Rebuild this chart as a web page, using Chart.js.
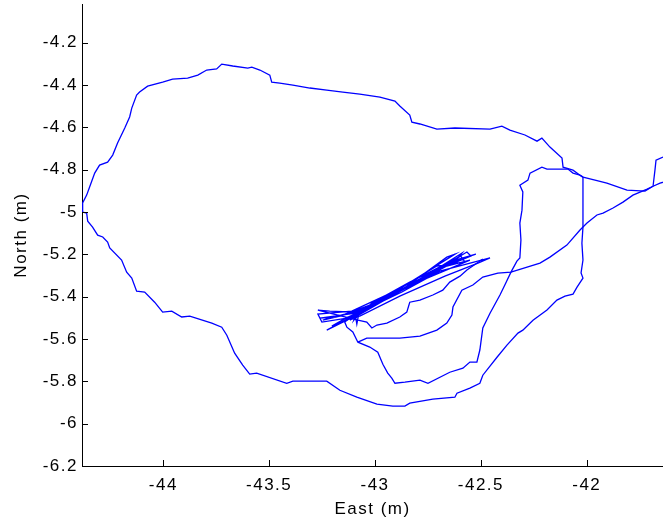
<!DOCTYPE html>
<html>
<head>
<meta charset="utf-8">
<script src="https://cdn.jsdelivr.net/npm/chart.js@4.4.1/dist/chart.umd.min.js"></script>
<style>
  html, body { margin: 0; padding: 0; background: #fff; }
</style>
</head>
<body>
<canvas id="track" width="663" height="525"></canvas>
<script>
// tick values
const eastTicks = [-44, -43.5, -43, -42.5, -42];
const northTicks = [-6.2, -6, -5.8, -5.6, -5.4, -5.2, -5, -4.8, -4.6, -4.4, -4.2];

// big outer loop, starts and ends at the junction on the right
const loopEast = [-42.018, -42.018, -42.018, -42.023, -42.018, -42.027, -42.018, -42.046, -42.065, -42.103,
  -42.141, -42.188, -42.254, -42.302, -42.325, -42.377, -42.424, -42.491, -42.505, -42.552,
  -42.613, -42.623, -42.727, -42.836, -42.859, -42.916, -42.991, -43.086, -43.166, -43.228,
  -43.388, -43.417, -43.559, -43.592, -43.625, -43.663, -43.700, -43.724, -43.771, -43.875,
  -43.913, -43.960, -44.003, -44.041, -44.088, -44.126, -44.149, -44.173, -44.197, -44.253,
  -44.263, -44.286, -44.310, -44.334, -44.357, -44.362, -44.381, -44.381, -44.362, -44.348,
  -44.324, -44.301, -44.263, -44.239, -44.216, -44.182, -44.159, -44.149, -44.126, -44.112,
  -44.074, -44.003, -43.956, -43.885, -43.837, -43.795, -43.748, -43.724, -43.672, -43.601,
  -43.582, -43.544, -43.497, -43.488, -43.450, -43.388, -43.308, -43.228, -43.152, -43.072,
  -42.977, -42.906, -42.883, -42.836, -42.826, -42.788, -42.708, -42.623, -42.457, -42.401,
  -42.363, -42.292, -42.235, -42.212, -42.174, -42.117, -42.112, -42.065, -42.032, -42.018];
const loopNorth = [-4.835, -4.943, -5.071, -5.147, -5.227, -5.288, -5.312, -5.355, -5.388, -5.397,
  -5.416, -5.463, -5.511, -5.558, -5.572, -5.629, -5.686, -5.771, -5.809, -5.832,
  -5.856, -5.875, -5.884, -5.903, -5.917, -5.917, -5.908, -5.875, -5.842, -5.799,
  -5.799, -5.809, -5.761, -5.766, -5.723, -5.667, -5.582, -5.544, -5.525, -5.492,
  -5.496, -5.468, -5.473, -5.426, -5.378, -5.374, -5.312, -5.284, -5.227, -5.170,
  -5.142, -5.118, -5.109, -5.071, -5.043, -5.005, -5.000, -4.957, -4.920, -4.882,
  -4.816, -4.778, -4.764, -4.731, -4.674, -4.603, -4.551, -4.509, -4.447, -4.433,
  -4.405, -4.386, -4.372, -4.367, -4.353, -4.329, -4.324, -4.301, -4.310, -4.320,
  -4.315, -4.329, -4.353, -4.386, -4.391, -4.400, -4.414, -4.424, -4.433, -4.443,
  -4.457, -4.476, -4.499, -4.542, -4.575, -4.584, -4.608, -4.603, -4.608, -4.594,
  -4.613, -4.636, -4.665, -4.651, -4.693, -4.745, -4.788, -4.802, -4.826, -4.835];

// junction -> off the right edge
const exitEast = [-42.018, -41.961, -41.905, -41.810, -41.725, -41.687, -41.678, -41.673, -41.640, -41.583];
const exitNorth = [-4.835, -4.849, -4.863, -4.896, -4.901, -4.878, -4.802, -4.755, -4.740, -4.722];

// back in from the right edge, down to the cluster
const diagEast = [-41.583, -41.654, -41.687, -41.715, -41.782, -41.829, -41.876, -41.923, -41.952, -41.999,
  -42.032, -42.094, -42.174, -42.221, -42.358, -42.420, -42.491, -42.538, -42.590, -42.632,
  -42.637, -42.661, -42.708, -42.788, -42.883, -42.977, -43.039, -43.081];
const diagNorth = [-4.844, -4.863, -4.878, -4.892, -4.920, -4.953, -4.981, -5.005, -5.014, -5.052,
  -5.085, -5.156, -5.213, -5.241, -5.284, -5.289, -5.307, -5.345, -5.369, -5.449,
  -5.487, -5.525, -5.558, -5.586, -5.596, -5.596, -5.596, -5.615];

// inner loop: junction, west, down and round to the cluster
const innerEast = [-42.018, -42.032, -42.065, -42.089, -42.188, -42.212, -42.268, -42.278, -42.316, -42.302,
  -42.306, -42.316, -42.311, -42.316, -42.330, -42.358, -42.387, -42.410, -42.457, -42.491,
  -42.505, -42.519, -42.552, -42.585, -42.647, -42.750, -42.788, -42.859, -42.906, -42.921,
  -42.940, -42.963, -42.987, -43.025, -43.081, -43.105, -43.133, -43.143, -43.119];
const innerNorth = [-4.835, -4.826, -4.816, -4.797, -4.797, -4.788, -4.816, -4.849, -4.873, -4.905,
  -4.991, -5.052, -5.132, -5.217, -5.232, -5.284, -5.345, -5.392, -5.478, -5.548,
  -5.652, -5.709, -5.709, -5.738, -5.757, -5.809, -5.794, -5.804, -5.809, -5.785,
  -5.761, -5.719, -5.662, -5.638, -5.615, -5.567, -5.544, -5.520, -5.501];

// cluster -> north-east tip
const spurEast = [-43.119, -43.081, -43.039, -43.015, -42.991, -42.944, -42.883, -42.850, -42.836, -42.788,
  -42.727, -42.680, -42.647, -42.599, -42.566, -42.491];
const spurNorth = [-5.501, -5.511, -5.520, -5.548, -5.534, -5.525, -5.496, -5.473, -5.426, -5.416,
  -5.392, -5.369, -5.331, -5.303, -5.274, -5.222];

// back and forth passes in the cluster
const clusterEast = [-43.119, -43.270, -43.214, -43.091, -42.883, -42.661, -42.623, -42.765, -42.954, -43.091,
  -43.261, -43.185, -43.081, -42.836, -42.566, -42.547, -42.732, -42.940, -43.086, -43.228,
  -43.166, -43.081, -42.873, -42.694, -42.457, -42.514, -42.670, -42.883, -43.072, -43.251,
  -43.270, -43.110, -42.906, -42.708, -42.576, -42.595, -42.788, -43.001, -43.100, -43.204,
  -43.138, -43.043, -42.859, -42.637, -42.524, -42.684, -42.836, -43.015, -43.091, -43.086,
  -43.077, -43.100, -43.091, -42.977, -42.921, -42.812, -42.741, -42.609, -42.590, -42.717,
  -42.826, -42.897, -43.025, -43.166, -43.247, -43.143, -43.025, -42.765, -42.552, -42.661,
  -42.906, -43.119];
const clusterNorth = [-5.501, -5.463, -5.468, -5.473, -5.374, -5.213, -5.199, -5.288, -5.407, -5.478,
  -5.501, -5.496, -5.468, -5.350, -5.189, -5.208, -5.284, -5.402, -5.487, -5.558,
  -5.525, -5.478, -5.378, -5.279, -5.217, -5.241, -5.303, -5.397, -5.492, -5.520,
  -5.482, -5.468, -5.374, -5.255, -5.236, -5.208, -5.307, -5.430, -5.496, -5.539,
  -5.501, -5.459, -5.359, -5.232, -5.199, -5.255, -5.331, -5.430, -5.501, -5.530,
  -5.482, -5.511, -5.487, -5.426, -5.383, -5.336, -5.303, -5.217, -5.194, -5.274,
  -5.326, -5.369, -5.440, -5.492, -5.511, -5.482, -5.444, -5.317, -5.227, -5.255,
  -5.388, -5.511];

const FONT = { family: '"Liberation Sans", Arial, sans-serif', size: 17 };

function segment(east, north) {
  let pts = [];
  for (let i = 0; i < east.length; i++) {
    pts.push({ x: east[i], y: north[i] });
  }
  return { data: pts, showLine: true, borderColor: '#0000ff', borderWidth: 1.3, pointRadius: 0, tension: 0 };
}

// matlab style ticks pointing into the plot
const inwardTicks = {
  id: 'inwardTicks',
  afterDatasetsDraw(chart) {
    const { ctx, chartArea, scales } = chart;
    ctx.save();
    ctx.strokeStyle = '#000';
    ctx.lineWidth = 1;
    ctx.beginPath();
    eastTicks.forEach(v => {
      const x = Math.round(scales.x.getPixelForValue(v)) + 0.5;
      ctx.moveTo(x, chartArea.bottom);
      ctx.lineTo(x, chartArea.bottom - 6);
    });
    northTicks.forEach(v => {
      const y = Math.round(scales.y.getPixelForValue(v)) + 0.5;
      ctx.moveTo(chartArea.left, y);
      ctx.lineTo(chartArea.left + 6, y);
    });
    ctx.stroke();
    ctx.restore();
  }
};

// the reference text is rendered wide, spread it a little
const wideText = {
  id: 'wideText',
  beforeDraw(chart) { chart.ctx.letterSpacing = '1.5px'; },
  afterDraw(chart) { chart.ctx.letterSpacing = '0px'; }
};

function noPad(s) {
  s.paddingTop = 0; s.paddingBottom = 0; s.paddingLeft = 0; s.paddingRight = 0;
}

new Chart('track', {
  type: 'scatter',
  data: {
    datasets: [
      segment(loopEast, loopNorth),
      segment(exitEast, exitNorth),
      segment(diagEast, diagNorth),
      segment(innerEast, innerNorth),
      segment(spurEast, spurNorth),
      segment(clusterEast, clusterNorth)
    ]
  },
  options: {
    responsive: false,
    animation: false,
    layout: { autoPadding: false, padding: { top: 4, right: 0, bottom: 0, left: 0 } },
    plugins: { legend: { display: false }, tooltip: { enabled: false } },
    scales: {
      x: {
        type: 'linear',
        min: -44.384,
        max: -41.64,
        afterBuildTicks: s => { s.ticks = eastTicks.map(v => ({ value: v })); },
        afterFit: s => { s.height = 59; noPad(s); },
        ticks: { callback: v => String(v), color: '#000', font: FONT, padding: 9, maxRotation: 0, autoSkip: false },
        grid: { display: false, drawTicks: false, tickLength: 0 },
        border: { display: true, color: '#000', width: 1 },
        title: { display: true, text: 'East (m)', color: '#000', font: FONT, padding: { top: 0, bottom: 5 } }
      },
      y: {
        type: 'linear',
        min: -6.2,
        max: -4.017,
        afterBuildTicks: s => { s.ticks = northTicks.map(v => ({ value: v })); },
        afterFit: s => { s.width = 82; noPad(s); },
        ticks: { callback: v => String(v), color: '#000', font: FONT, padding: 4, autoSkip: false },
        grid: { display: false, drawTicks: false, tickLength: 0 },
        border: { display: true, color: '#000', width: 1 },
        title: { display: true, text: 'North (m)', color: '#000', font: FONT, padding: { top: 11, bottom: 0 } }
      }
    }
  },
  plugins: [inwardTicks, wideText]
});
</script>
</body>
</html>
